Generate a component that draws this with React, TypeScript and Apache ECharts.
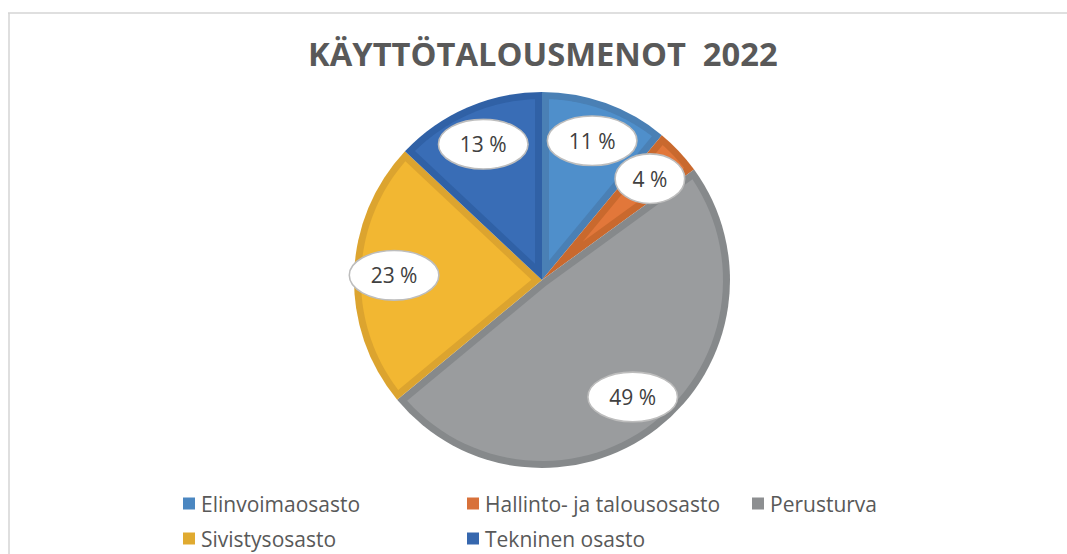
import React, { useEffect, useRef } from "react";
import * as echarts from "echarts";

const TITLE = "KÄYTTÖTALOUSMENOT  2022";
const categories = [
  "Elinvoimaosasto",
  "Hallinto- ja talousosasto",
  "Perusturva",
  "Sivistysosasto",
  "Tekninen osasto",
];
const values = [11, 4, 49, 23, 13];
const fillColors = ["#4f8fcb", "#e2773a", "#9a9c9e", "#f2b732", "#396db6"];
const edgeColors = ["#4a80b5", "#c9692e", "#86898b", "#dca42f", "#3061a6"];
const legendColors = ["#4b87c1", "#d8713a", "#8d8f91", "#e0aa30", "#3667ae"];

const CX = 542;
const CY = 280;
const R = 188;
const INSET = 7;
const LABEL_R = 148;

const ellipseUri = (w: number, h: number) =>
  "data:image/svg+xml;charset=utf-8," +
  encodeURIComponent(
    `<svg xmlns='http://www.w3.org/2000/svg' width='${w}' height='${h}' viewBox='0 0 ${w} ${h}'><ellipse cx='${w / 2}' cy='${h / 2}' rx='${w / 2 - 1.2}' ry='${h / 2 - 1.2}' fill='#ffffff' stroke='#bdbdbd' stroke-width='1.6'/></svg>`
  );

function sliceAngles(i: number): [number, number] {
  const total = values.reduce((a, b) => a + b, 0);
  let acc = 0;
  for (let k = 0; k < i; k++) acc += values[k];
  return [(acc / total) * Math.PI * 2, ((acc + values[i]) / total) * Math.PI * 2];
}

const pt = (ang: number, r: number) => [CX + r * Math.sin(ang), CY - r * Math.cos(ang)];

function insetPoints(i: number): number[][] {
  const [a0, a1] = sliceAngles(i);
  const s = a1 - a0;
  const rr = R - INSET;
  const pts: number[][] = [];
  const apexDist = s < Math.PI ? INSET / Math.sin(s / 2) : 0;
  pts.push(pt((a0 + a1) / 2, apexDist));
  const d = Math.asin(INSET / rr);
  const b0 = a0 + d;
  const b1 = a1 - d;
  const n = 60;
  for (let k = 0; k <= n; k++) {
    pts.push(pt(b0 + ((b1 - b0) * k) / n, rr));
  }
  return pts;
}

const richBase = {
  height: 52,
  lineHeight: 52,
  align: "center",
  fontFamily: "Open Sans",
  fontSize: 21,
  fill: "#404040",
};

export default function App() {
  const ref = useRef<HTMLDivElement>(null);
  useEffect(() => {
    if (!ref.current) return;
    const chart = echarts.init(ref.current, undefined, { renderer: "svg" });
    const legendStyle = (left: number, names: number[]) => ({
      orient: "vertical" as const,
      left,
      top: 488,
      itemWidth: 12,
      itemHeight: 12,
      itemGap: 14,
      icon: "rect",
      selectedMode: false,
      textStyle: { fontFamily: "Open Sans", fontSize: 21, color: "#595959", padding: [0, 0, 0, 1] },
      data: names.map((i) => ({ name: categories[i], itemStyle: { color: legendColors[i] } })),
    });
    chart.setOption({
      animation: false,
      backgroundColor: "#ffffff",
      title: {
        text: TITLE,
        left: 303,
        top: 32,
        textStyle: { fontFamily: "Open Sans", fontWeight: "bold", fontSize: 32.7, color: "#595959" },
      },
      graphic: [
        { type: "line", shape: { x1: 8, y1: 13, x2: 1067, y2: 13 }, style: { stroke: "#d4d4d4", lineWidth: 1.5 } },
        { type: "line", shape: { x1: 9, y1: 13, x2: 9, y2: 554 }, style: { stroke: "#d4d4d4", lineWidth: 1.5 } },
      ],
      legend: [legendStyle(178, [0, 3]), legendStyle(462, [1, 4]), legendStyle(747, [2])],
      series: [
        {
          type: "pie",
          name: "base",
          center: [CX, CY],
          radius: R,
          startAngle: 90,
          clockwise: true,
          silent: true,
          z: 1,
          label: { show: false },
          labelLine: { show: false },
          itemStyle: { borderWidth: 0 },
          data: categories.map((c, i) => ({ name: c, value: values[i], itemStyle: { color: edgeColors[i] } })),
        },
        {
          type: "custom",
          name: "inset",
          coordinateSystem: "none",
          silent: true,
          z: 2,
          data: values.map((v, i) => [i, v]),
          renderItem: (params: any) => {
            const i = params.dataIndex;
            const [a0, a1] = sliceAngles(i);
            const [lx, ly] = pt((a0 + a1) / 2, LABEL_R);
            const w = values[i] >= 10 ? 92 : 72;
            return {
              type: "group",
              children: [
                {
                  type: "polygon",
                  z2: 1,
                  shape: { points: insetPoints(i) },
                  style: { fill: fillColors[i] },
                },
                {
                  type: "text",
                  z2: 100 + i,
                  x: lx,
                  y: ly,
                  style: {
                    text: `{e|${values[i]} %}`,
                    align: "center",
                    verticalAlign: "middle",
                    fill: "#404040",
                    rich: {
                      e: { ...richBase, width: w, backgroundColor: { image: ellipseUri(w, 52) } },
                    },
                  },
                },
              ],
            };
          },
        },
      ],
    });
    return () => chart.dispose();
  }, []);
  return (
    <div
      ref={ref}
      style={{ position: "fixed", left: 0, top: 0, width: 1067, height: 554 }}
    />
  );
}
